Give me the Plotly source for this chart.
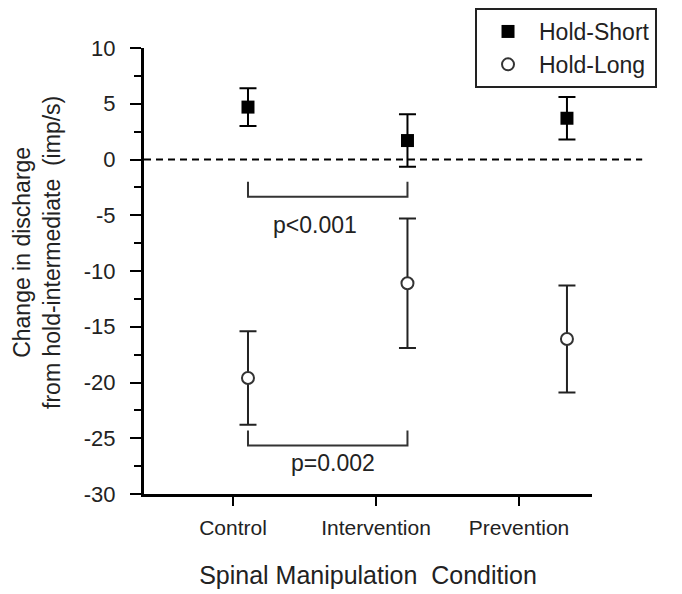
import plotly.graph_objects as go

# conditions and group means / errors (imp/s)
conditions = ["Control", "Intervention", "Prevention"]
short_mean = [4.7, 1.7, 3.7]
short_err = [1.7, 2.35, 1.9]
long_mean = [-19.6, -11.1, -16.1]
long_err = [4.2, 5.8, 4.8]

y_ticks = [10, 5, 0, -5, -10, -15, -20, -25, -30]
y_ticklabels = ["10", "5", "0", "-5", "-10", "-15", "-20", "-25", "-30"]

# significance brackets
bracket_pairs = [("Control", "Intervention"), ("Control", "Intervention")]
bracket_tip = [-2.0, -24.3]
bracket_bar = [-3.35, -25.65]
bracket_text = ["p<0.001", "p=0.002"]
text_x = [0.573, 0.70]
text_y = [-5.9, -27.2]

font = "Liberation Sans, Arial, sans-serif"
ink = "#222222"

fig = go.Figure()

fig.add_trace(go.Scatter(
    x=conditions, y=short_mean, xaxis="x2", mode="markers", name="Hold-Short",
    legendgroup="a",
    marker=dict(symbol="square", size=13, color="black"),
    error_y=dict(type="data", array=short_err, color="black", thickness=2, width=8.5),
))
fig.add_trace(go.Scatter(
    x=conditions, y=long_mean, xaxis="x2", mode="markers", name="Hold-Long",
    legendgroup="b",
    marker=dict(symbol="circle", size=12, color="white", line=dict(color="#333333", width=2)),
    error_y=dict(type="data", array=long_err, color="#222222", thickness=2, width=8.5),
))

for (a, b), t, bar in zip(bracket_pairs, bracket_tip, bracket_bar):
    fig.add_trace(go.Scatter(
        x=[a, a, b, b], y=[t, bar, bar, t], xaxis="x2", mode="lines",
        line=dict(color="#333333", width=2), showlegend=False, hoverinfo="skip",
    ))

for txt, tx, ty in zip(bracket_text, text_x, text_y):
    fig.add_annotation(x=tx, y=ty, xref="x", yref="y", text=txt, showarrow=False,
                       font=dict(size=23, color=ink, family=font))

# zero reference line (runs past the end of the x axis)
fig.add_shape(type="line", xref="x domain", yref="y", x0=0, x1=1.112, y0=0, y1=0,
              line=dict(color="black", width=2, dash="7px,5px"))

fig.add_annotation(
    x=-0.239, y=0.5426, xref="paper", yref="paper", textangle=-90,
    text="Change in discharge<br>from hold-intermediate  (imp/s)",
    showarrow=False, xanchor="center", yanchor="middle",
    font=dict(size=23, color=ink, family=font),
)

# page body adds an 8px offset, so the figure is sized/margined for that
fig.update_layout(
    width=674, height=586,
    margin=dict(l=136, r=90, t=40, b=100, autoexpand=False),
    paper_bgcolor="white", plot_bgcolor="white",
    font=dict(family=font, color=ink),
    showlegend=True,
    legend=dict(
        xref="container", yref="container",
        x=0.6929, y=1.0, xanchor="left", yanchor="top",
        bordercolor="#222222", borderwidth=2, bgcolor="white",
        font=dict(size=23, color=ink, family=font),
        tracegroupgap=0, traceorder="grouped", itemwidth=52, entrywidth=190,
    ),
    xaxis=dict(
        range=[-0.622, 2.51], tickvals=[0, 1, 2], ticktext=conditions, tickangle=0,
        showgrid=False, zeroline=False, showline=True, linecolor="black", linewidth=3,
        ticks="outside", ticklen=9, tickwidth=2, tickcolor="black",
        tickfont=dict(size=21, color=ink), fixedrange=True, ticklabelstandoff=4,
        title=dict(text="Spinal Manipulation  Condition", font=dict(size=25, color=ink), standoff=29),
    ),
    xaxis2=dict(
        type="category", categoryarray=conditions, overlaying="x",
        range=[-0.652, 2.157], visible=False, fixedrange=True,
    ),
    yaxis=dict(
        range=[-30, 10], tickvals=y_ticks, ticktext=y_ticklabels,
        showgrid=False, zeroline=False, showline=True, linecolor="black", linewidth=3,
        ticks="outside", ticklen=11, tickwidth=2, tickcolor="black",
        tickfont=dict(size=22, color=ink), fixedrange=True, ticklabelstandoff=10,
        minor=dict(dtick=2.5, tick0=0, ticks="outside", ticklen=7, tickwidth=2, tickcolor="black"),
    ),
)

fig.write_html("out.html")
